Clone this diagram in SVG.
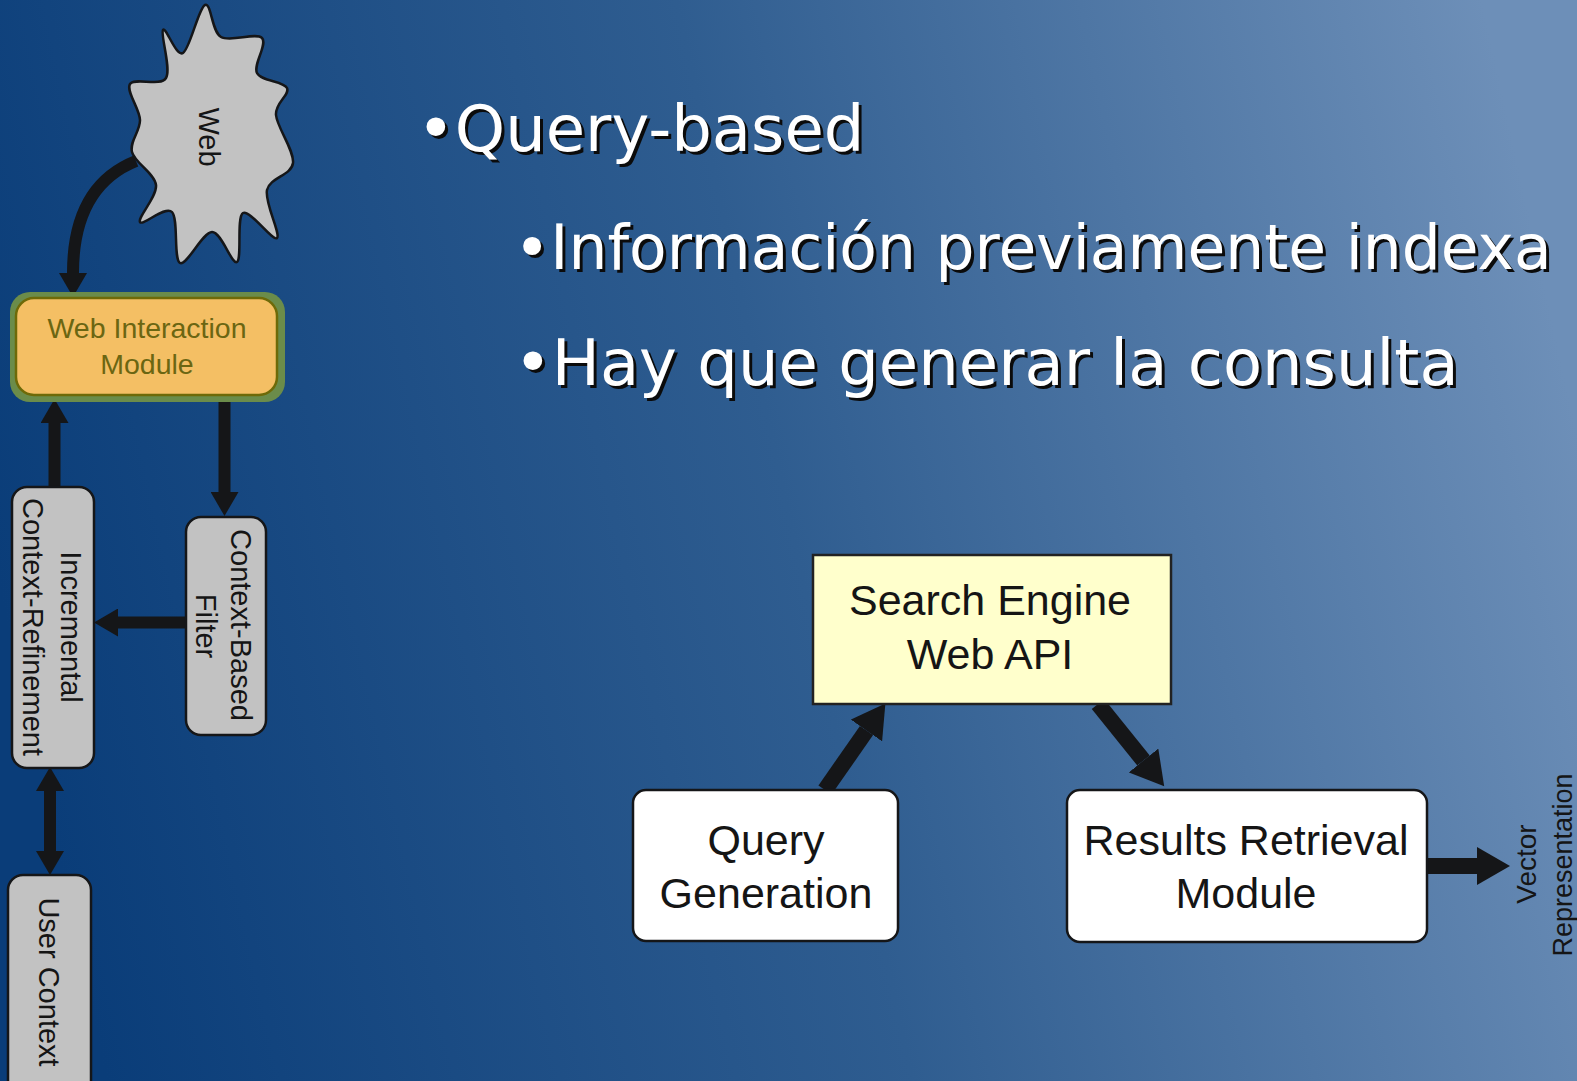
<svg xmlns="http://www.w3.org/2000/svg" width="1577" height="1081" viewBox="0 0 1577 1081">
<defs>
<linearGradient id="bg" x1="0" y1="0.55" x2="1" y2="0.4">
<stop offset="0" stop-color="#0a3d79"/>
<stop offset="0.5" stop-color="#2f5d90"/>
<stop offset="1" stop-color="#6d8fb8"/>
</linearGradient>
<marker id="hs" markerUnits="userSpaceOnUse" markerWidth="26" markerHeight="28" refX="0" refY="14" orient="auto-start-reverse">
<path d="M0,0 L24,14 L0,28 z" fill="#151618"/>
</marker>
<marker id="hl" markerUnits="userSpaceOnUse" markerWidth="34" markerHeight="38" refX="0" refY="19" orient="auto">
<path d="M0,0 L33,19 L0,38 z" fill="#151618"/>
</marker>
<style>
.t{font-family:"Liberation Sans",Arial,sans-serif;fill:#151515;text-anchor:middle}
.g{fill:#c2c2c2;stroke:#151618;stroke-width:2.5}
.w{fill:#ffffff;stroke:#151618;stroke-width:2.5}
.bul{font-family:"DejaVu Sans",Verdana,sans-serif;font-size:64px}
.sm{font-size:61.5px}
.sh{fill:#0b0b0b}
.fg{fill:#ffffff}
.c{fill:none;stroke:#151618;stroke-width:12}
.cl{fill:none;stroke:#151618;stroke-width:16}
</style>
</defs>
<rect x="0" y="0" width="1577" height="1081" fill="url(#bg)"/>

<g id="bullets">
<text class="bul sh" x="420" y="154">•Query-based</text>
<text class="bul fg" x="417" y="151">•Query-based</text>
<text class="bul sm sh" x="517" y="272">•Información previamente indexa</text>
<text class="bul sm fg" x="514" y="269">•Información previamente indexa</text>
<text class="bul sh" x="517" y="388">•Hay que generar la consulta</text>
<text class="bul fg" x="514" y="385">•Hay que generar la consulta</text>
</g>

<g id="connectors">
<path class="c" d="M136,161 C96,177 73,212 73,273" marker-end="url(#hs)"/>
<line class="c" x1="54.5" y1="487" x2="54.5" y2="423" marker-end="url(#hs)"/>
<line class="c" x1="224.5" y1="396" x2="224.5" y2="492" marker-end="url(#hs)"/>
<line class="c" x1="186" y1="622.5" x2="118" y2="622.5" marker-end="url(#hs)"/>
<line class="c" x1="50" y1="791" x2="50" y2="851" marker-start="url(#hs)" marker-end="url(#hs)"/>
<line class="cl" x1="825" y1="790" x2="866.5" y2="730.5" marker-end="url(#hl)"/>
<line class="cl" x1="1098" y1="704" x2="1143.5" y2="760.5" marker-end="url(#hl)"/>
<line class="cl" x1="1427" y1="866" x2="1477" y2="866" marker-end="url(#hl)"/>
</g>

<g id="web">
<path class="g" d="M183,53 C190,48.83 198.67,7.67 205,5 C211.33,2.33 211.5,31.5 221,37 C230.5,42.5 256,32 262,38 C268,44 252.83,64.67 257,73 C261.17,81.33 283.83,81 287,88 C290.17,95 275,102.5 276,115 C277,127.5 294.5,150.5 293,163 C291.5,175.5 269.67,177.5 267,190 C264.33,202.5 281,234.17 277,238 C273,241.83 249.67,209 243,213 C236.33,217 242.17,258.83 237,262 C231.83,265.17 221.5,231.83 212,232 C202.5,232.17 186.67,266.33 180,263 C173.33,259.67 178.67,218.83 172,212 C165.33,205.17 142.67,226.5 140,222 C137.33,217.5 157.33,196.67 156,185 C154.67,173.33 134.67,162.83 132,152 C129.33,141.17 140.33,131.33 140,120 C139.67,108.67 125.67,91 130,84 C134.33,77 160.5,87 166,78 C171.5,69 160.17,34.17 163,30 C165.83,25.83 176,57.17 183,53 Z"/>
<text class="t" font-size="29" transform="translate(199,137) rotate(90)">Web</text>
</g>

<g id="web-interaction-module">
<rect x="10" y="292" width="275" height="110" rx="20" fill="#6b8c4a"/>
<rect x="16" y="298" width="261" height="97" rx="18" fill="#f4bf64" stroke="#6e6a08" stroke-width="2.5"/>
<text class="t" font-size="28.5" style="fill:#6b6612" x="147" y="338">Web Interaction</text>
<text class="t" font-size="28.5" style="fill:#6b6612" x="147" y="374">Module</text>
</g>

<g id="incremental-context-refinement">
<rect class="g" x="12" y="487" width="82" height="281" rx="15"/>
<text class="t" font-size="29" transform="translate(61,627) rotate(90)">Incremental</text>
<text class="t" font-size="29" transform="translate(23,627) rotate(90)">Context-Refinement</text>
</g>

<g id="context-based-filter">
<rect class="g" x="186" y="517" width="80" height="218" rx="15"/>
<text class="t" font-size="29" transform="translate(231,625) rotate(90)">Context-Based</text>
<text class="t" font-size="29" transform="translate(196,626) rotate(90)">Filter</text>
</g>

<g id="user-context">
<rect class="g" x="8" y="875" width="83" height="230" rx="15"/>
<text class="t" font-size="29" transform="translate(39,982) rotate(90)">User Context</text>
</g>

<g id="search-engine-web-api">
<rect x="813" y="555" width="358" height="149" fill="#ffffcc" stroke="#222222" stroke-width="2.5"/>
<text class="t" font-size="43" x="990" y="615">Search Engine</text>
<text class="t" font-size="43" x="990" y="669">Web API</text>
</g>

<g id="query-generation">
<rect class="w" x="633" y="790" width="265" height="151" rx="13"/>
<text class="t" font-size="43" x="766" y="855">Query</text>
<text class="t" font-size="43" x="766" y="908">Generation</text>
</g>

<g id="results-retrieval-module">
<rect class="w" x="1067" y="790" width="360" height="152" rx="13"/>
<text class="t" font-size="43" x="1246" y="855">Results Retrieval</text>
<text class="t" font-size="43" x="1246" y="908">Module</text>
</g>

<g id="vector-representation">
<text class="t" font-size="28" transform="translate(1536,864) rotate(-90)">Vector</text>
<text class="t" font-size="27" transform="translate(1572,865) rotate(-90)">Representation</text>
</g>
</svg>
